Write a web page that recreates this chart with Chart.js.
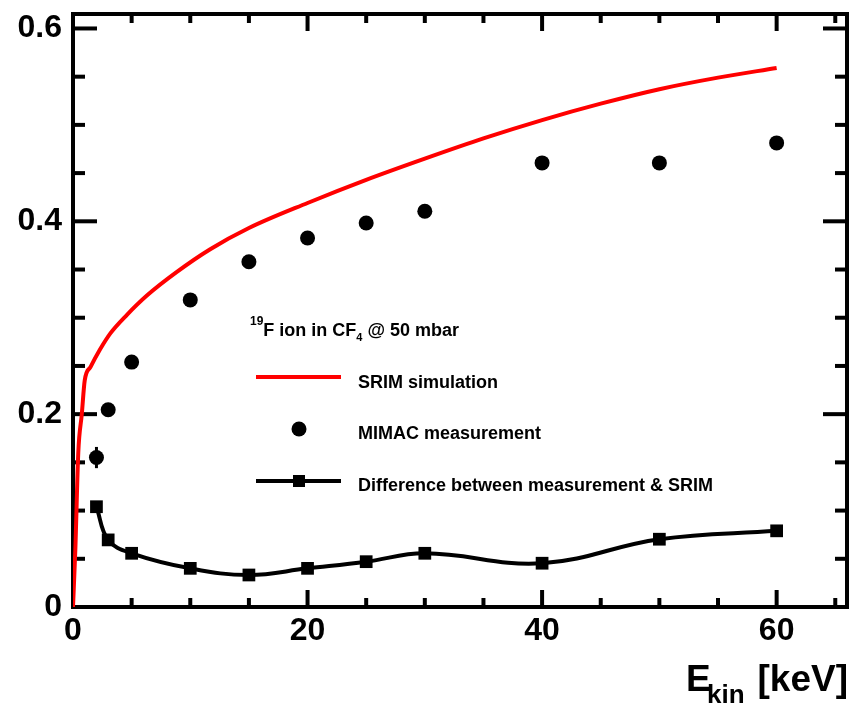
<!DOCTYPE html>
<html><head><meta charset="utf-8">
<script src="https://cdn.jsdelivr.net/npm/chart.js@4.4.1/dist/chart.umd.min.js"></script>
<style>html,body{margin:0;padding:0;background:#fff;} canvas{display:block;}</style>
</head><body>
<canvas id="c" width="852" height="706"></canvas>
<script>
// ---- data ----
const srimE = [0, 0.2, 0.45, 0.75, 1.0, 1.5, 2.3, 3.2, 4.6, 6.3, 8.8, 11.7, 15, 20, 25, 30, 35, 40, 45, 50, 55, 60];
const srimV = [0, 0.06, 0.16, 0.20, 0.235, 0.249, 0.267, 0.284, 0.303, 0.323, 0.347, 0.371, 0.393, 0.419, 0.443, 0.465, 0.486, 0.505, 0.522, 0.537, 0.549, 0.559];

const mimacE = [2, 3, 5, 10, 15, 20, 25, 30, 40, 50, 60];
const mimacV = [0.155, 0.2045, 0.254, 0.3185, 0.358, 0.3827, 0.3983, 0.4104, 0.4606, 0.4606, 0.4813];
const mimacErr = [0.011, 0.006, 0.003, 0.003, 0.003, 0.003, 0.003, 0.003, 0.003, 0.003, 0.003];

const diffE = [2, 3, 5, 10, 15, 20, 25, 30, 40, 50, 60];
const diffV = [0.104, 0.0696, 0.0557, 0.0401, 0.0332, 0.0401, 0.047, 0.0557, 0.0454, 0.0703, 0.079];

const xTickValues = [0, 20, 40, 60];
const xTickLabels = ['0', '20', '40', '60'];
const yTickValues = [0, 0.2, 0.4, 0.6];
const yTickLabels = ['0', '0.2', '0.4', '0.6'];

const seriesLabels = ['SRIM simulation', 'MIMAC measurement', 'Difference between measurement & SRIM'];
const headerParts = { sup: '19', main: 'F ion in CF', sub: '4', rest: ' @ 50 mbar' };
const axisTitle = { main: 'E', sub: 'kin', rest: '[keV]' };

const FONT = '"Liberation Sans", Arial, Helvetica, sans-serif';
const toXY = (xs, ys) => xs.map((x, i) => ({ x: x, y: ys[i] }));

const framePlugin = {
  id: 'frame',
  beforeDatasetsDraw(chart) {
    const { ctx, chartArea: a, scales: { x, y } } = chart;
    ctx.save();
    ctx.strokeStyle = '#000';
    ctx.lineWidth = 4;
    ctx.lineCap = 'butt';
    const seg = (x1, y1, x2, y2) => { ctx.beginPath(); ctx.moveTo(x1, y1); ctx.lineTo(x2, y2); ctx.stroke(); };
    for (let i = 0; i * 5 <= x.max + 1e-9; i++) {
      const px = x.getPixelForValue(i * 5);
      const L = (i % 4 === 0) ? 17 : 9;
      seg(px, a.bottom, px, a.bottom - L);
      seg(px, a.top, px, a.top + L);
    }
    for (let i = 0; i * 0.05 <= y.max + 1e-9; i++) {
      const py = y.getPixelForValue(i * 0.05);
      const L = (i % 4 === 0) ? 24 : 12;
      seg(a.left, py, a.left + L, py);
      seg(a.right, py, a.right - L, py);
    }
    ctx.strokeRect(a.left, a.top, a.right - a.left, a.bottom - a.top);
    ctx.restore();
  },
  afterDatasetsDraw(chart) {
    const { ctx, scales: { x, y } } = chart;
    ctx.save();
    ctx.strokeStyle = '#000';
    ctx.lineWidth = 3;
    mimacE.forEach((e, i) => {
      const px = x.getPixelForValue(e);
      const p1 = y.getPixelForValue(mimacV[i] - mimacErr[i]);
      const p2 = y.getPixelForValue(mimacV[i] + mimacErr[i]);
      ctx.beginPath(); ctx.moveTo(px, p1); ctx.lineTo(px, p2); ctx.stroke();
    });
    ctx.restore();
  },
  afterDraw(chart) {
    const { ctx } = chart;
    ctx.save();
    ctx.fillStyle = '#000';
    ctx.textBaseline = 'alphabetic';
    ctx.textAlign = 'left';
    let xh = 250;
    ctx.font = 'bold 12px ' + FONT;
    ctx.fillText(headerParts.sup, xh, 325);
    xh += ctx.measureText(headerParts.sup).width;
    ctx.font = 'bold 18px ' + FONT;
    ctx.fillText(headerParts.main, xh, 336);
    xh += ctx.measureText(headerParts.main).width;
    ctx.font = 'bold 11px ' + FONT;
    ctx.fillText(headerParts.sub, xh, 341);
    xh += ctx.measureText(headerParts.sub).width;
    ctx.font = 'bold 18px ' + FONT;
    ctx.fillText(headerParts.rest, xh, 336);

    ctx.lineWidth = 4;
    ctx.strokeStyle = '#ff0000';
    ctx.beginPath(); ctx.moveTo(256, 377); ctx.lineTo(341, 377); ctx.stroke();
    ctx.fillStyle = '#000';
    ctx.beginPath(); ctx.arc(299, 429, 7.5, 0, Math.PI * 2); ctx.fill();
    ctx.strokeStyle = '#000';
    ctx.beginPath(); ctx.moveTo(256, 481); ctx.lineTo(341, 481); ctx.stroke();
    ctx.fillRect(293, 475, 12, 12);
    ctx.font = 'bold 18px ' + FONT;
    ctx.fillText(seriesLabels[0], 358, 388);
    ctx.fillText(seriesLabels[1], 358, 439);
    ctx.fillText(seriesLabels[2], 358, 491);

    ctx.font = 'bold 37px ' + FONT;
    ctx.fillText(axisTitle.main, 686, 691);
    ctx.textAlign = 'right';
    ctx.fillText(axisTitle.rest, 848, 691);
    ctx.textAlign = 'left';
    ctx.font = 'bold 26px ' + FONT;
    ctx.fillText(axisTitle.sub, 707, 703);
    ctx.restore();
  }
};

new Chart(document.getElementById('c'), {
  type: 'line',
  data: {
    datasets: [
      {
        label: seriesLabels[0],
        data: toXY(srimE, srimV),
        borderColor: '#ff0000',
        borderWidth: 4,
        pointRadius: 0,
        cubicInterpolationMode: 'monotone',
        fill: false
      },
      {
        label: seriesLabels[1],
        data: toXY(mimacE, mimacV),
        showLine: false,
        pointStyle: 'circle',
        pointRadius: 7.5,
        pointBackgroundColor: '#000',
        pointBorderWidth: 0,
        borderColor: '#000'
      },
      {
        label: seriesLabels[2],
        data: toXY(diffE, diffV),
        borderColor: '#000',
        borderWidth: 4,
        tension: 0.4,
        pointStyle: 'rect',
        pointRadius: 9,
        pointBackgroundColor: '#000',
        pointBorderWidth: 0,
        fill: false
      }
    ]
  },
  options: {
    responsive: false,
    animation: false,
    devicePixelRatio: 1,
    layout: { autoPadding: false, padding: { top: 14, right: 5, left: 0, bottom: 0 } },
    plugins: { legend: { display: false }, tooltip: { enabled: false } },
    scales: {
      x: {
        type: 'linear',
        min: 0, max: 66,
        grid: { display: false, drawTicks: false },
        border: { display: false },
        afterBuildTicks: (s) => { s.ticks = xTickValues.map(v => ({ value: v })); },
        afterFit: (s) => { s.height = 99; s.paddingLeft = 0; s.paddingRight = 0; },
        ticks: {
          color: '#000',
          padding: 5,
          maxRotation: 0,
          font: { family: FONT, size: 32, weight: 'bold' },
          callback: (v) => xTickLabels[xTickValues.indexOf(v)]
        }
      },
      y: {
        type: 'linear',
        min: 0, max: 0.615,
        grid: { display: false, drawTicks: false },
        border: { display: false },
        afterBuildTicks: (s) => { s.ticks = yTickValues.map(v => ({ value: v })); },
        afterFit: (s) => { s.width = 73; s.paddingTop = 0; s.paddingBottom = 0; },
        ticks: {
          color: '#000',
          padding: 11,
          font: { family: FONT, size: 32, weight: 'bold' },
          callback: (v) => yTickLabels[yTickValues.indexOf(v)]
        }
      }
    }
  },
  plugins: [framePlugin]
});
</script>
</body></html>
